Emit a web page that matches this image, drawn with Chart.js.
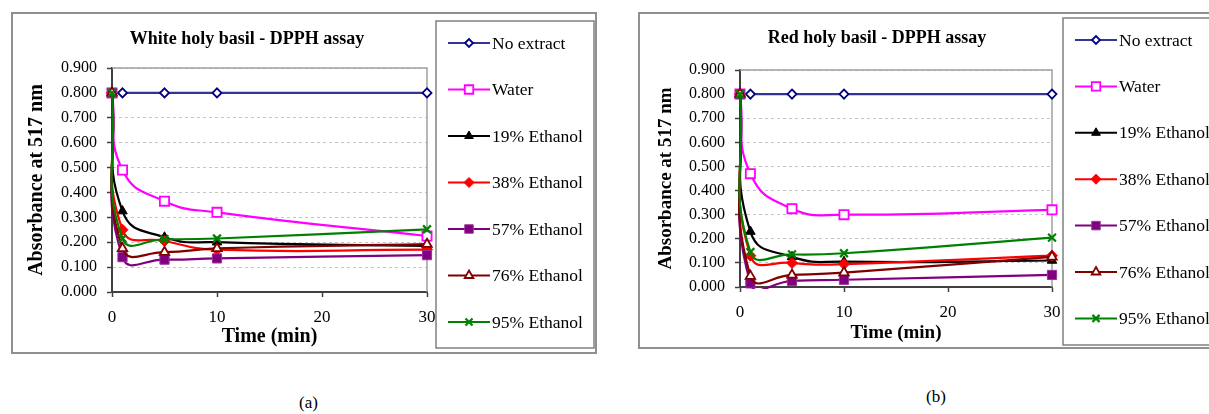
<!DOCTYPE html>
<html>
<head>
<meta charset="utf-8">
<title>Holy basil - DPPH assay</title>
<script src="https://cdn.jsdelivr.net/npm/chart.js"></script>
<style>
  html, body { margin: 0; padding: 0; background: #fff; width: 1209px; height: 414px; overflow: hidden; }
  body { position: relative; }
  canvas { position: absolute; }
  #chartA { left: 11px; top: 12px; }
  #chartB { left: 638px; top: 12px; }
  .cap { position: absolute; font-family: "Liberation Serif", "Times New Roman", serif; font-size: 17px; color: #000; }
</style>
</head>
<body>
<canvas id="chartA" width="586" height="342"></canvas>
<canvas id="chartB" width="600" height="337"></canvas>
<div class="cap" style="left:299px; top:393px;">(a)</div>
<div class="cap" style="left:926px; top:387px;">(b)</div>
<script>
// ---- data ----
const timeMin = [0, 1, 5, 10, 30];
const xTickValues = [0, 10, 20, 30];
const xTickLabels = ["0", "10", "20", "30"];
const yTickValues = [0, 0.1, 0.2, 0.3, 0.4, 0.5, 0.6, 0.7, 0.8, 0.9];
const yTickLabels = ["0.000", "0.100", "0.200", "0.300", "0.400", "0.500", "0.600", "0.700", "0.800", "0.900"];
const seriesNames = ["No extract", "Water", "19% Ethanol", "38% Ethanol", "57% Ethanol", "76% Ethanol", "95% Ethanol"];

// white holy basil
const whiteNoExtract = [0.800, 0.800, 0.800, 0.800, 0.800];
const whiteWater = [0.800, 0.490, 0.365, 0.320, 0.225];
const whiteEthanol19 = [0.800, 0.325, 0.220, 0.200, 0.185];
const whiteEthanol38 = [0.800, 0.250, 0.205, 0.170, 0.170];
const whiteEthanol57 = [0.800, 0.140, 0.130, 0.135, 0.148];
const whiteEthanol76 = [0.800, 0.175, 0.160, 0.175, 0.192];
const whiteEthanol95 = [0.800, 0.215, 0.212, 0.215, 0.252];

// red holy basil
const redNoExtract = [0.800, 0.800, 0.800, 0.800, 0.800];
const redWater = [0.800, 0.470, 0.325, 0.300, 0.320];
const redEthanol19 = [0.800, 0.230, 0.125, 0.105, 0.110];
const redEthanol38 = [0.800, 0.130, 0.100, 0.095, 0.130];
const redEthanol57 = [0.800, 0.015, 0.025, 0.030, 0.050];
const redEthanol76 = [0.800, 0.045, 0.050, 0.060, 0.125];
const redEthanol95 = [0.800, 0.145, 0.135, 0.140, 0.205];

const FONT = '"Liberation Serif", "Times New Roman", serif';

// marker / line look for each series (same order as seriesNames)
const seriesStyles = [
  { line: "#333399", border: "#000080", fill: "#ffffff", style: "rectRot", r: 4.5, bw: 1.8 },
  { line: "#ff00ff", border: "#ff00ff", fill: "#ffffff", style: "rect", r: 6.5, bw: 1.8 },
  { line: "#000000", border: "#000000", fill: "#000000", style: "triangle", r: 5.5, bw: 1 },
  { line: "#ff0000", border: "#ff0000", fill: "#ff0000", style: "rectRot", r: 5.5, bw: 1 },
  { line: "#800080", border: "#993399", fill: "#800080", style: "rect", r: 6.5, bw: 1 },
  { line: "#800000", border: "#800000", fill: "#ffffff", style: "triangle", r: 5.5, bw: 1.8 },
  { line: "#008000", border: "#008000", fill: "#008000", style: "crossRot", r: 5.5, bw: 2.2 },
];

// outer box, plot frame, title and the boxed legend
const panelDecor = {
  id: "panelDecor",
  beforeDraw(chart, args, opts) {
    const ctx = chart.ctx;
    ctx.save();
    ctx.fillStyle = "#ffffff";
    ctx.fillRect(0, 0, chart.width, chart.height);
    ctx.strokeStyle = "#909090";
    ctx.lineWidth = 2;
    ctx.strokeRect(1, 1, chart.width - 2, chart.height - 2);
    ctx.restore();
  },
  beforeDatasetsDraw(chart) {
    const ctx = chart.ctx;
    const a = chart.chartArea;
    ctx.save();
    ctx.strokeStyle = "#a0a0a0";
    ctx.lineWidth = 1.5;
    ctx.beginPath();
    ctx.moveTo(a.left, a.top);
    ctx.lineTo(a.right, a.top);
    ctx.lineTo(a.right, a.bottom);
    ctx.stroke();
    ctx.restore();
  },
  afterDraw(chart, args, opts) {
    const ctx = chart.ctx;
    ctx.save();
    // title
    ctx.fillStyle = "#000";
    ctx.font = "bold 18px " + FONT;
    ctx.textAlign = "center";
    ctx.textBaseline = "middle";
    ctx.fillText(opts.title, opts.titleX, opts.titleY);
    // legend box
    const b = opts.legendBox;
    ctx.strokeStyle = "#808080";
    ctx.lineWidth = 1.5;
    ctx.strokeRect(b[0], b[1], b[2], b[3]);
    ctx.font = "17.5px " + FONT;
    ctx.textAlign = "left";
    chart.data.datasets.forEach((ds, i) => {
      const y = opts.legendY0 + i * opts.legendStep;
      ctx.strokeStyle = ds.borderColor;
      ctx.lineWidth = 2;
      ctx.beginPath();
      ctx.moveTo(opts.lineX0, y);
      ctx.lineTo(opts.lineX1, y);
      ctx.stroke();
      ctx.fillStyle = ds.pointBackgroundColor;
      ctx.strokeStyle = ds.pointBorderColor;
      ctx.lineWidth = ds.pointBorderWidth;
      Chart.helpers.drawPoint(ctx, {
        pointStyle: ds.pointStyle, rotation: 0, radius: ds.pointRadius - 0.5, borderWidth: ds.pointBorderWidth
      }, (opts.lineX0 + opts.lineX1) / 2, y);
      ctx.fillStyle = "#000";
      ctx.fillText(ds.label, opts.textX, y + 1);
    });
    ctx.restore();
  },
};

function buildPanel(canvasId, seriesValues, geo) {
  const datasets = seriesValues.map((vals, i) => {
    const s = seriesStyles[i];
    return {
      label: seriesNames[i],
      data: timeMin.map((t, k) => ({ x: t, y: vals[k] })),
      borderColor: s.line,
      borderWidth: 2.2,
      pointStyle: s.style,
      pointRadius: s.r,
      pointBorderColor: s.border,
      pointBackgroundColor: s.fill,
      pointBorderWidth: s.bw,
      tension: 0.5,
      capBezierPoints: false,
      order: seriesValues.length - i,
      clip: { left: 10, right: 10, top: 10, bottom: 2 },
    };
  });

  const ctx = document.getElementById(canvasId).getContext("2d");
  return new Chart(ctx, {
    type: "line",
    data: { datasets: datasets },
    options: {
      responsive: false,
      animation: false,
      events: [],
      layout: { padding: { left: 0, top: geo.top, right: geo.right, bottom: 0 } },
      elements: { line: { capBezierPoints: false } },
      scales: {
        x: {
          type: "linear",
          min: 0,
          max: 30,
          afterBuildTicks: (axis) => { axis.ticks = xTickValues.map((v) => ({ value: v })); },
          afterFit: (axis) => { axis.height = geo.xAxisH; },
          ticks: {
            callback: (v, idx) => xTickLabels[idx],
            font: { family: FONT, size: 17 },
            color: "#000",
            padding: 10,
            maxRotation: 0,
            autoSkip: false,
          },
          grid: { drawOnChartArea: false, drawTicks: true, tickLength: 5, tickColor: "#404040", tickWidth: 1.5 },
          border: { color: "#404040", width: 2 },
          title: {
            display: true,
            text: "Time (min)",
            font: { family: FONT, size: geo.xTitleSize, weight: "bold" },
            color: "#000",
            padding: { top: 0, bottom: geo.xTitlePad },
          },
        },
        y: {
          min: 0,
          max: 0.9,
          afterBuildTicks: (axis) => { axis.ticks = yTickValues.map((v) => ({ value: v })); },
          afterFit: (axis) => { axis.width = geo.yAxisW; },
          ticks: {
            callback: (v, idx) => yTickLabels[idx],
            font: { family: FONT, size: 16 },
            color: "#000",
            padding: 10,
          },
          grid: { color: "#c4c4c4", lineWidth: 1, drawTicks: true, tickLength: 5, tickColor: "#404040", tickWidth: 1.5 },
          border: { color: "#404040", width: 2, dash: [3, 3] },
          title: {
            display: true,
            text: "Absorbance at 517 nm",
            font: { family: FONT, size: geo.yTitleSize, weight: "bold" },
            color: "#000",
            padding: { top: geo.yTitlePad, bottom: 0 },
          },
        },
      },
      plugins: {
        legend: { display: false },
        tooltip: { enabled: false },
        panelDecor: {
          title: geo.title,
          titleX: geo.titleX,
          titleY: geo.titleY,
          legendBox: geo.legendBox,
          legendY0: geo.legendY0,
          legendStep: geo.legendStep,
          lineX0: 437,
          lineX1: 479,
          textX: 481,
        },
      },
    },
    plugins: [panelDecor],
  });
}

buildPanel("chartA",
  [whiteNoExtract, whiteWater, whiteEthanol19, whiteEthanol38, whiteEthanol57, whiteEthanol76, whiteEthanol95],
  {
    title: "White holy basil - DPPH assay", titleX: 236, titleY: 27,
    top: 56, right: 170, yAxisW: 101, xAxisH: 62,
    xTitleSize: 20, xTitlePad: 5, yTitleSize: 20, yTitlePad: 14,
    legendBox: [425, 9, 158, 327], legendY0: 31, legendStep: 46.5,
  });

buildPanel("chartB",
  [redNoExtract, redWater, redEthanol19, redEthanol38, redEthanol57, redEthanol76, redEthanol95],
  {
    title: "Red holy basil - DPPH assay", titleX: 239, titleY: 26,
    top: 58, right: 186, yAxisW: 102, xAxisH: 62,
    xTitleSize: 19, xTitlePad: 5, yTitleSize: 19, yTitlePad: 17,
    legendBox: [425, 6, 170, 327], legendY0: 28, legendStep: 46.4,
  });
</script>
</body>
</html>
